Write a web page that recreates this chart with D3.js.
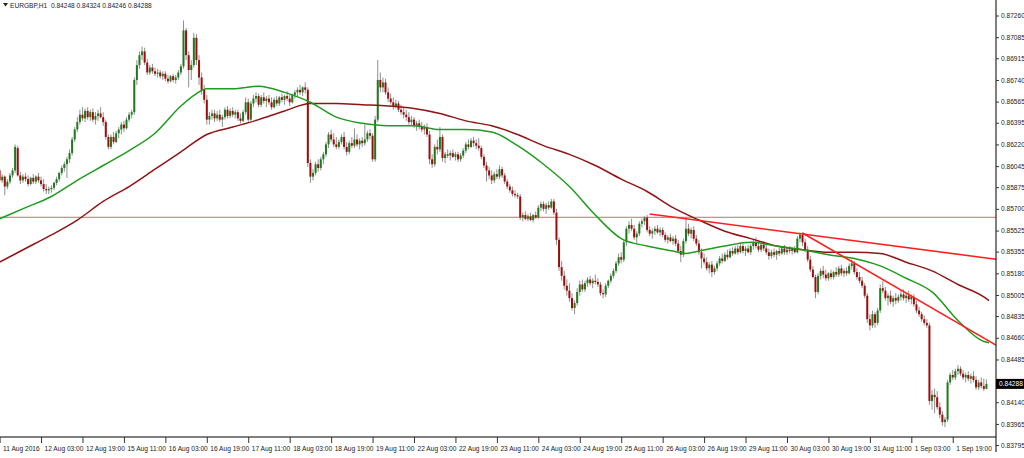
<!DOCTYPE html>
<html><head><meta charset="utf-8">
<script src="https://cdn.jsdelivr.net/npm/d3@7"></script>
<style>
body{margin:0;background:#fff;}
svg{display:block;}
text{font-family:"Liberation Sans",Arial,sans-serif;}
</style>
</head><body><svg id="c" width="1024" height="458"></svg>
<script>
// ---------------- DATA ----------------
const symbol = "EURGBP,H1";
const lastQuote = [0.84248, 0.84324, 0.84246, 0.84288]; // O H L C of the last bar
const PIP = 0.0001; // candle rows below are quotes in pips: [open, high, low, close]

const aug11 = [[8601,8603,8592,8593],[8593,8598,8591,8596],[8596,8597,8581,8588],[8588,8594,8586,8592],[8592,8599,8590,8597],[8597,8603,8595,8601],[8601,8622,8599,8620],[8619,8621,8596,8597],[8597,8600,8590,8593],[8593,8598,8591,8596],[8596,8599,8592,8594],[8594,8597,8588,8590],[8590,8596,8589,8595]];
const aug12 = [[8595,8598,8590,8592],[8592,8597,8590,8596],[8596,8599,8591,8593],[8593,8596,8588,8590],[8590,8594,8584,8586],[8586,8590,8582,8585],[8585,8588,8582,8586],[8586,8589,8583,8587],[8587,8592,8585,8591],[8591,8596,8589,8594],[8594,8600,8592,8599],[8599,8605,8597,8603],[8603,8608,8600,8606],[8606,8612,8595,8610],[8610,8618,8607,8615],[8615,8628,8613,8626],[8626,8636,8624,8634],[8634,8644,8632,8640],[8640,8650,8638,8646],[8646,8652,8641,8643],[8643,8651,8640,8649],[8649,8652,8642,8644],[8644,8650,8641,8648],[8648,8651,8640,8642]];
const aug15 = [[8642,8648,8638,8645],[8645,8650,8641,8647],[8647,8652,8643,8644],[8644,8648,8637,8640],[8640,8642,8626,8628],[8628,8630,8618,8620],[8620,8630,8618,8628],[8628,8632,8622,8624],[8624,8633,8623,8631],[8631,8636,8627,8634],[8634,8640,8630,8638],[8638,8641,8632,8635],[8635,8644,8634,8642],[8642,8648,8640,8646],[8646,8650,8643,8648],[8648,8676,8646,8674],[8674,8690,8670,8686],[8686,8697,8683,8694],[8694,8701,8690,8697],[8697,8700,8686,8688],[8688,8691,8678,8680],[8680,8686,8678,8684],[8684,8687,8679,8681],[8681,8684,8677,8679]];
const aug16 = [[8679,8683,8676,8680],[8680,8682,8675,8677],[8677,8681,8674,8679],[8679,8681,8673,8675],[8675,8678,8671,8673],[8673,8678,8672,8677],[8677,8679,8672,8674],[8674,8678,8671,8676],[8676,8682,8674,8680],[8680,8687,8678,8685],[8685,8722,8683,8714],[8714,8716,8690,8694],[8694,8697,8668,8682],[8682,8690,8674,8686],[8686,8712,8684,8708],[8708,8711,8686,8690],[8690,8694,8670,8676],[8676,8680,8662,8666],[8666,8670,8655,8658],[8658,8662,8638,8642],[8642,8648,8638,8645],[8645,8650,8642,8647],[8647,8650,8640,8643],[8643,8649,8641,8646]];
const aug17 = [[8646,8650,8640,8642],[8642,8646,8636,8644],[8644,8652,8642,8650],[8650,8653,8643,8645],[8645,8651,8643,8649],[8649,8652,8644,8646],[8646,8650,8643,8648],[8648,8650,8641,8643],[8643,8647,8639,8641],[8641,8650,8640,8648],[8648,8660,8646,8656],[8656,8659,8640,8642],[8642,8657,8641,8655],[8655,8662,8652,8659],[8659,8664,8656,8661],[8661,8663,8652,8654],[8654,8662,8652,8660],[8660,8664,8655,8657],[8657,8661,8652,8659],[8659,8662,8654,8656],[8656,8660,8650,8652],[8652,8660,8651,8658],[8658,8661,8653,8655],[8655,8661,8653,8660]];
const aug18 = [[8660,8663,8656,8658],[8658,8662,8654,8661],[8661,8665,8657,8659],[8659,8662,8653,8656],[8656,8663,8655,8662],[8662,8666,8659,8664],[8664,8668,8660,8666],[8666,8670,8662,8664],[8664,8669,8661,8668],[8668,8672,8663,8666],[8666,8668,8604,8607],[8607,8610,8591,8596],[8596,8602,8593,8599],[8599,8608,8597,8606],[8606,8610,8600,8603],[8603,8612,8601,8610],[8610,8616,8606,8614],[8614,8624,8612,8622],[8622,8632,8619,8630],[8630,8634,8624,8626],[8626,8631,8620,8622],[8622,8628,8618,8620],[8620,8626,8618,8624],[8624,8630,8622,8628]];
const aug19 = [[8628,8632,8618,8620],[8620,8624,8613,8616],[8616,8625,8614,8623],[8623,8628,8619,8621],[8621,8635,8619,8626],[8626,8630,8620,8622],[8622,8627,8618,8625],[8625,8628,8620,8623],[8623,8638,8621,8626],[8626,8633,8624,8631],[8631,8634,8626,8629],[8629,8631,8608,8610],[8610,8645,8608,8642],[8642,8690,8640,8674],[8674,8680,8664,8668],[8668,8676,8664,8672],[8672,8675,8662,8664],[8664,8668,8656,8659],[8659,8663,8654,8656],[8656,8660,8650,8653],[8653,8658,8651,8655],[8655,8657,8648,8650],[8650,8654,8646,8648],[8648,8652,8643,8646]];
const aug22 = [[8646,8650,8641,8644],[8644,8648,8638,8640],[8640,8645,8637,8642],[8642,8644,8635,8637],[8637,8641,8633,8639],[8639,8642,8634,8636],[8636,8640,8632,8634],[8634,8638,8630,8636],[8636,8639,8628,8630],[8630,8633,8606,8610],[8610,8614,8603,8606],[8606,8622,8604,8620],[8620,8626,8614,8618],[8618,8636,8616,8628],[8628,8630,8608,8611],[8611,8616,8607,8614],[8614,8618,8611,8613],[8613,8617,8609,8615],[8615,8618,8611,8612],[8612,8616,8609,8614],[8614,8616,8608,8610],[8610,8615,8608,8613],[8613,8619,8611,8617],[8617,8624,8615,8622]];
const aug23 = [[8622,8626,8618,8620],[8620,8627,8619,8625],[8625,8628,8620,8623],[8623,8626,8618,8621],[8621,8627,8617,8619],[8619,8621,8610,8612],[8612,8614,8603,8605],[8605,8608,8592,8601],[8601,8604,8594,8597],[8597,8601,8590,8593],[8593,8600,8591,8598],[8598,8602,8594,8596],[8596,8605,8594,8602],[8602,8604,8595,8597],[8597,8599,8590,8592],[8592,8594,8586,8588],[8588,8590,8583,8585],[8585,8588,8580,8582],[8582,8585,8579,8581],[8581,8583,8578,8580],[8580,8582,8561,8563],[8563,8567,8560,8565],[8565,8568,8561,8562],[8562,8566,8560,8564]];
const aug24 = [[8564,8567,8560,8561],[8561,8566,8559,8565],[8565,8568,8562,8563],[8563,8573,8562,8571],[8571,8576,8568,8574],[8574,8576,8568,8570],[8570,8575,8566,8573],[8573,8576,8569,8571],[8571,8578,8570,8576],[8576,8578,8565,8567],[8567,8570,8541,8545],[8545,8547,8520,8523],[8523,8528,8512,8516],[8516,8520,8505,8508],[8508,8513,8500,8504],[8504,8510,8495,8498],[8498,8502,8488,8490],[8490,8496,8485,8494],[8494,8506,8492,8503],[8503,8512,8500,8509],[8509,8513,8503,8505],[8505,8512,8503,8510],[8510,8515,8507,8513],[8513,8516,8508,8510]];
const aug25 = [[8510,8514,8506,8512],[8512,8517,8509,8511],[8511,8514,8507,8509],[8509,8511,8500,8502],[8502,8505,8498,8501],[8501,8510,8499,8508],[8508,8513,8506,8512],[8512,8518,8510,8516],[8516,8522,8514,8520],[8520,8528,8518,8526],[8526,8534,8524,8531],[8531,8535,8526,8529],[8529,8545,8527,8543],[8543,8556,8540,8554],[8554,8560,8550,8557],[8557,8562,8552,8554],[8554,8557,8545,8547],[8547,8552,8542,8550],[8550,8560,8548,8558],[8558,8562,8555,8560],[8560,8564,8557,8563],[8563,8565,8551,8553],[8553,8556,8548,8550],[8550,8554,8546,8552]];
const aug26 = [[8552,8556,8549,8554],[8554,8557,8550,8551],[8551,8555,8548,8553],[8553,8555,8547,8549],[8549,8551,8543,8545],[8545,8549,8542,8547],[8547,8550,8543,8544],[8544,8548,8541,8546],[8546,8549,8540,8542],[8542,8545,8534,8536],[8536,8540,8527,8533],[8533,8546,8531,8544],[8544,8563,8542,8554],[8554,8558,8548,8550],[8550,8555,8546,8553],[8553,8556,8544,8546],[8546,8549,8540,8542],[8542,8545,8533,8535],[8535,8538,8522,8530],[8530,8534,8525,8527],[8527,8531,8520,8522],[8522,8527,8518,8525],[8525,8528,8515,8519],[8519,8524,8517,8522]];
const aug29 = [[8522,8528,8520,8526],[8526,8532,8524,8530],[8530,8534,8526,8528],[8528,8535,8527,8533],[8533,8537,8529,8531],[8531,8538,8530,8536],[8536,8539,8532,8534],[8534,8540,8533,8538],[8538,8541,8533,8535],[8535,8543,8534,8540],[8540,8542,8534,8536],[8536,8540,8532,8538],[8538,8541,8534,8535],[8535,8542,8533,8540],[8540,8546,8537,8543],[8543,8547,8538,8540],[8540,8544,8535,8537],[8537,8542,8535,8541],[8541,8544,8536,8538],[8538,8542,8533,8535],[8535,8538,8529,8532],[8532,8537,8530,8535],[8535,8538,8531,8533],[8533,8537,8529,8536]];
const aug30 = [[8536,8539,8532,8534],[8534,8540,8533,8538],[8538,8541,8533,8535],[8535,8539,8533,8537],[8537,8540,8534,8536],[8536,8539,8533,8538],[8538,8540,8534,8535],[8535,8548,8534,8546],[8546,8551,8543,8549],[8549,8551,8540,8543],[8543,8546,8535,8537],[8537,8540,8527,8529],[8529,8532,8519,8521],[8521,8524,8514,8515],[8515,8517,8498,8503],[8503,8518,8501,8516],[8516,8522,8513,8520],[8520,8524,8514,8517],[8517,8521,8512,8514],[8514,8519,8512,8518],[8518,8521,8513,8515],[8515,8520,8513,8519],[8519,8523,8515,8517],[8517,8524,8515,8522]];
const aug31 = [[8522,8525,8516,8518],[8518,8522,8515,8520],[8520,8523,8516,8518],[8518,8526,8517,8524],[8524,8529,8521,8526],[8526,8528,8517,8519],[8519,8522,8513,8515],[8515,8519,8510,8512],[8512,8515,8506,8508],[8508,8510,8498,8500],[8500,8502,8478,8481],[8481,8485,8472,8476],[8476,8488,8474,8485],[8485,8487,8474,8478],[8478,8490,8476,8488],[8488,8509,8486,8506],[8506,8512,8502,8504],[8504,8507,8496,8498],[8498,8502,8492,8500],[8500,8504,8493,8495],[8495,8500,8491,8498],[8498,8502,8493,8496],[8496,8501,8494,8499],[8499,8504,8496,8501]];
const sep01 = [[8501,8505,8496,8498],[8498,8502,8494,8500],[8500,8504,8495,8497],[8497,8501,8493,8499],[8499,8501,8491,8493],[8493,8496,8486,8488],[8488,8491,8483,8485],[8485,8487,8479,8481],[8481,8484,8476,8478],[8478,8481,8474,8476],[8476,8478,8412,8415],[8415,8424,8408,8420],[8420,8425,8405,8418],[8418,8423,8408,8410],[8410,8414,8401,8404],[8404,8407,8395,8398],[8398,8402,8394,8400],[8400,8432,8398,8430],[8430,8438,8428,8436],[8436,8440,8432,8434],[8434,8441,8432,8439],[8439,8444,8436,8441],[8441,8443,8435,8437],[8437,8440,8432,8434]];
const sep02 = [[8434,8438,8430,8436],[8436,8439,8431,8433],[8433,8437,8429,8435],[8435,8439,8430,8432],[8432,8435,8424,8426],[8426,8432,8424,8430],[8430,8434,8425,8427],[8427,8433,8423,8424.8],[8424.8,8432.4,8424.6,8428.8]];
const days = [aug11, aug12, aug15, aug16, aug17, aug18, aug19, aug22, aug23, aug24, aug25, aug26, aug29, aug30, aug31, sep01, sep02];

// moving averages: [bar index, price]
const fastMA = [[0,0.8562],[10,0.8571],[20,0.8580],[30,0.8593],[40,0.8605],[50,0.8617],[60,0.8631],[70,0.8653],[76,0.8663],[80,0.8667],[90,0.8667],[100,0.8669],[110,0.8664],[120,0.8656],[130,0.8644],[140,0.8639],[150,0.8637],[160,0.8637],[170,0.8634],[180,0.8634],[190,0.8632],[200,0.8621],[210,0.8606],[220,0.8588],[230,0.8565],[240,0.8546],[250,0.8540],[260,0.8536],[265,0.8534],[270,0.8536],[280,0.8540],[290,0.8543],[300,0.8540],[310,0.8537],[320,0.8533],[330,0.8530],[340,0.8524],[350,0.8514],[360,0.8503],[370,0.8480],[380,0.8463],[382,0.8462]];
const slowMA = [[0,0.8527],[10,0.8538],[20,0.8549],[30,0.8561],[40,0.8576],[50,0.8588],[60,0.8602],[70,0.8616],[80,0.8630],[90,0.8636],[100,0.8642],[110,0.8649],[120,0.8655],[130,0.8655],[140,0.8654],[150,0.8653],[160,0.8651],[170,0.8647],[180,0.8641],[190,0.8637],[200,0.8630],[210,0.8621],[220,0.8614],[230,0.8605],[240,0.8594],[250,0.8584],[260,0.8571],[270,0.8561],[280,0.8552],[290,0.8546],[300,0.8540],[310,0.8537],[320,0.8535],[330,0.8535],[340,0.8534],[350,0.8527],[360,0.8520],[370,0.8509],[380,0.8499],[382,0.8496]];

const levelPrice = 0.85632;
const trendUpper = [[251, 0.85658], [309, 0.85500]];
const trendLower = [[310, 0.85505], [340, 0.85142]];

// visible price-scale labels (0.84310 is hidden under the current-price box)
const priceTicks = [0.87260,0.87085,0.86915,0.86740,0.86565,0.86395,0.86220,0.86045,0.85875,0.85700,0.85525,0.85355,0.85180,0.85005,0.84835,0.84660,0.84485,0.84140,0.83965,0.83795];
const timeLabels = ["11 Aug 2016","12 Aug 03:00","12 Aug 19:00","15 Aug 11:00","16 Aug 03:00","16 Aug 19:00","17 Aug 11:00","18 Aug 03:00","18 Aug 19:00","19 Aug 11:00","22 Aug 03:00","22 Aug 19:00","23 Aug 11:00","24 Aug 03:00","24 Aug 19:00","25 Aug 11:00","26 Aug 03:00","26 Aug 19:00","29 Aug 11:00","30 Aug 03:00","30 Aug 19:00","31 Aug 11:00","1 Sep 03:00","1 Sep 19:00"];
const barsPerLabel = 16;

// ---------------- DRAW ----------------
const W = 1024, H = 458;
const plotR = 996, plotB = 437;
const svg = d3.select("#c");

const bars = days.flat().map((r, i) => ({i, o: r[0]*PIP, h: r[1]*PIP, l: r[2]*PIP, c: r[3]*PIP}));

const x = d3.scaleLinear().domain([0, 384.7]).range([-0.4, plotR]);
const y = d3.scaleLinear().domain([0.83795, 0.87260]).range([445, 15.5]);

svg.append("defs").append("clipPath").attr("id","plot")
  .append("rect").attr("x",0).attr("y",0).attr("width",plotR).attr("height",plotB);

const g = svg.append("g").attr("clip-path","url(#plot)");

// horizontal level
g.append("line").attr("x1",0).attr("x2",plotR)
  .attr("y1",y(levelPrice)).attr("y2",y(levelPrice))
  .attr("stroke","#c85a5a").attr("stroke-width",0.9);

// candles
const cg = g.append("g");
cg.selectAll("line.w").data(bars).join("line").attr("class","w")
  .attr("x1",d=>x(d.i)).attr("x2",d=>x(d.i))
  .attr("y1",d=>y(d.h)).attr("y2",d=>y(d.l))
  .attr("stroke","#8f8f8f").attr("stroke-width",1);
cg.selectAll("rect.b").data(bars).join("rect").attr("class","b")
  .attr("x",d=>x(d.i)-1).attr("width",2)
  .attr("y",d=>y(Math.max(d.o,d.c)))
  .attr("height",d=>Math.max(1, Math.abs(y(d.o)-y(d.c))))
  .attr("fill",d=>d.c>=d.o ? "#1d7a1d" : "#a00c0c");

// moving averages
const line = d3.line().x(d=>x(d[0])).y(d=>y(d[1])).curve(d3.curveMonotoneX);
g.append("path").attr("d",line(slowMA)).attr("fill","none").attr("stroke","#8e1515").attr("stroke-width",1.5);
g.append("path").attr("d",line(fastMA)).attr("fill","none").attr("stroke","#1f9b1f").attr("stroke-width",1.5);

// trend rays, extended to the right edge
function ray(p) {
  const [a, b] = p;
  const endI = x.domain()[1];
  const endP = a[1] + (b[1]-a[1]) * (endI - a[0]) / (b[0]-a[0]);
  return [[a[0], a[1]], [endI, endP]];
}
const straight = d3.line().x(d=>x(d[0])).y(d=>y(d[1]));
[trendUpper, trendLower].forEach(t => {
  g.append("path").attr("d", straight(ray(t))).attr("fill","none")
   .attr("stroke","#ff1f1f").attr("stroke-width",1.6);
});

// axes
const axisColor = "#000";
svg.append("line").attr("x1",0).attr("x2",plotR).attr("y1",plotB).attr("y2",plotB).attr("stroke",axisColor);
svg.append("line").attr("x1",plotR).attr("x2",plotR).attr("y1",0).attr("y2",452).attr("stroke",axisColor);

const yAxis = svg.append("g").attr("transform",`translate(${plotR},0)`)
  .call(d3.axisRight(y).tickValues(priceTicks).tickFormat(d3.format(".5f")).tickSize(3).tickPadding(2));
yAxis.select(".domain").remove();
yAxis.selectAll("text").attr("font-size",6.6).attr("fill","#222").attr("font-family","Liberation Sans, Arial, sans-serif");
yAxis.selectAll("line").attr("stroke","#333");

const tickIdx = d3.range(0, timeLabels.length).map(k => k*barsPerLabel);
const xAxis = svg.append("g").attr("transform",`translate(0,${plotB})`)
  .call(d3.axisBottom(x).tickValues(tickIdx).tickFormat((d,k)=>timeLabels[k]).tickSize(6));
xAxis.select(".domain").remove();
xAxis.selectAll("line").attr("stroke","#333");
xAxis.selectAll("text").attr("font-size",6.6).attr("fill","#222").attr("text-anchor","start")
  .attr("dx",3).attr("y",12).attr("dy","0.32em").attr("font-family","Liberation Sans, Arial, sans-serif");

// current price marker
const cp = lastQuote[3];
svg.append("rect").attr("x",plotR).attr("y",y(cp)-5).attr("width",W-plotR).attr("height",10).attr("fill","#000");
svg.append("text").attr("x",plotR+3).attr("y",y(cp)).attr("dy","0.35em")
  .attr("font-size",6.6).attr("fill","#fff").text(d3.format(".5f")(cp));

// title
svg.append("path").attr("d","M3,3 L8,3 L5.5,6.5 Z").attr("fill","#222");
svg.append("text").attr("x",10).attr("y",7.5).attr("font-size",6.6).attr("fill","#223")
  .attr("xml:space","preserve")
  .text(symbol + "  " + lastQuote.map(d3.format(".5f")).join(" "));
</script>
</body></html>
